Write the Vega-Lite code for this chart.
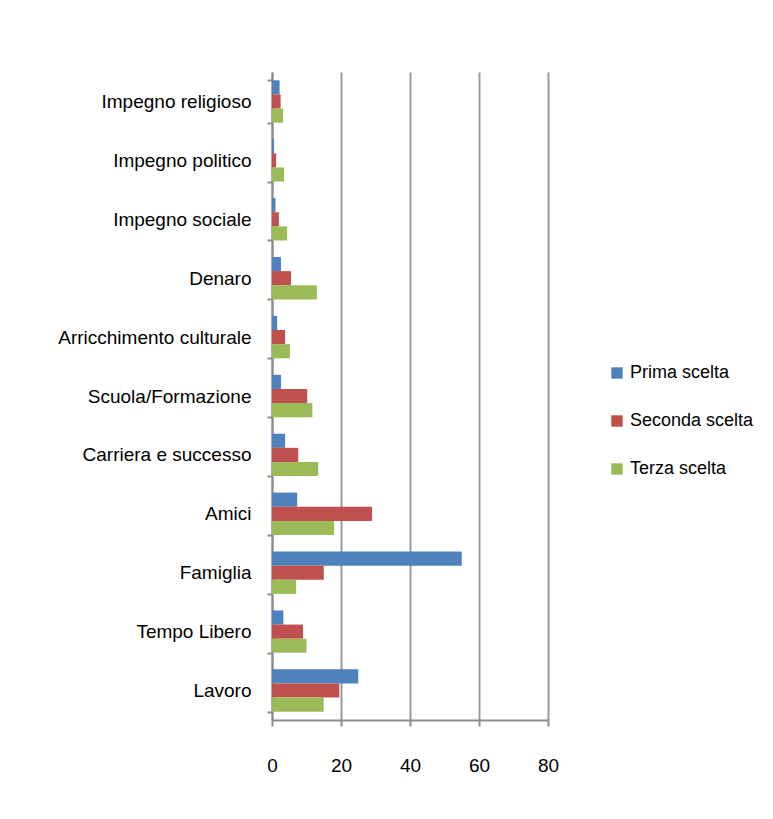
{
  "$schema": "https://vega.github.io/schema/vega-lite/v6.json",
  "autosize": "none",
  "width": 276,
  "height": 648,
  "padding": {"left": 272, "top": 72, "right": 225, "bottom": 99},
  "background": "white",
  "data": {
    "values": [
      {"cat": "Lavoro", "serie": "Prima scelta", "val": 25},
      {"cat": "Lavoro", "serie": "Seconda scelta", "val": 19.5},
      {"cat": "Lavoro", "serie": "Terza scelta", "val": 15},
      {"cat": "Tempo Libero", "serie": "Prima scelta", "val": 3.3},
      {"cat": "Tempo Libero", "serie": "Seconda scelta", "val": 9},
      {"cat": "Tempo Libero", "serie": "Terza scelta", "val": 10},
      {"cat": "Famiglia", "serie": "Prima scelta", "val": 55},
      {"cat": "Famiglia", "serie": "Seconda scelta", "val": 15},
      {"cat": "Famiglia", "serie": "Terza scelta", "val": 7},
      {"cat": "Amici", "serie": "Prima scelta", "val": 7.3},
      {"cat": "Amici", "serie": "Seconda scelta", "val": 29},
      {"cat": "Amici", "serie": "Terza scelta", "val": 18},
      {"cat": "Carriera e successo", "serie": "Prima scelta", "val": 3.8},
      {"cat": "Carriera e successo", "serie": "Seconda scelta", "val": 7.6},
      {"cat": "Carriera e successo", "serie": "Terza scelta", "val": 13.4},
      {"cat": "Scuola/Formazione", "serie": "Prima scelta", "val": 2.6},
      {"cat": "Scuola/Formazione", "serie": "Seconda scelta", "val": 10.2},
      {"cat": "Scuola/Formazione", "serie": "Terza scelta", "val": 11.7},
      {"cat": "Arricchimento culturale", "serie": "Prima scelta", "val": 1.5},
      {"cat": "Arricchimento culturale", "serie": "Seconda scelta", "val": 3.8},
      {"cat": "Arricchimento culturale", "serie": "Terza scelta", "val": 5.2},
      {"cat": "Denaro", "serie": "Prima scelta", "val": 2.6},
      {"cat": "Denaro", "serie": "Seconda scelta", "val": 5.5},
      {"cat": "Denaro", "serie": "Terza scelta", "val": 13},
      {"cat": "Impegno sociale", "serie": "Prima scelta", "val": 1},
      {"cat": "Impegno sociale", "serie": "Seconda scelta", "val": 2},
      {"cat": "Impegno sociale", "serie": "Terza scelta", "val": 4.4},
      {"cat": "Impegno politico", "serie": "Prima scelta", "val": 0.6},
      {"cat": "Impegno politico", "serie": "Seconda scelta", "val": 1.2},
      {"cat": "Impegno politico", "serie": "Terza scelta", "val": 3.5},
      {"cat": "Impegno religioso", "serie": "Prima scelta", "val": 2.2},
      {"cat": "Impegno religioso", "serie": "Seconda scelta", "val": 2.5},
      {"cat": "Impegno religioso", "serie": "Terza scelta", "val": 3.2}
    ]
  },
  "mark": {"type": "bar", "stroke": null},
  "encoding": {
    "y": {
      "field": "cat",
      "type": "nominal",
      "sort": ["Impegno religioso", "Impegno politico", "Impegno sociale", "Denaro", "Arricchimento culturale", "Scuola/Formazione", "Carriera e successo", "Amici", "Famiglia", "Tempo Libero", "Lavoro"],
      "scale": {"paddingInner": 0.28, "paddingOuter": 0.14},
      "axis": {
        "title": null,
        "labelFont": "Liberation Sans",
        "labelFontSize": 19,
        "labelColor": "#000000",
        "labelPadding": 16,
        "labelLimit": 0,
        "tickBand": "extent",
        "tickSize": 5,
        "tickColor": "#8c8c8c",
        "tickWidth": 2,
        "domainColor": "#8c8c8c",
        "domainWidth": 2,
        "grid": false
      }
    },
    "yOffset": {
      "field": "serie",
      "type": "nominal",
      "sort": ["Prima scelta", "Seconda scelta", "Terza scelta"],
      "scale": {"paddingInner": 0}
    },
    "x": {
      "field": "val",
      "type": "quantitative",
      "scale": {"domain": [0, 80], "nice": false},
      "axis": {
        "title": null,
        "values": [0, 20, 40, 60, 80],
        "labelFont": "Liberation Sans",
        "labelFontSize": 19,
        "labelColor": "#000000",
        "labelPadding": 30,
        "labelFlush": false,
        "labelDx": -2,
        "tickSize": 6,
        "tickColor": "#8c8c8c",
        "tickWidth": 2,
        "domainColor": "#8c8c8c",
        "domainWidth": 2,
        "grid": true,
        "gridColor": "#9a9a9a",
        "gridWidth": 2
      }
    },
    "color": {
      "field": "serie",
      "type": "nominal",
      "scale": {
        "domain": ["Prima scelta", "Seconda scelta", "Terza scelta"],
        "range": ["#4F81BD", "#C0504D", "#9BBB59"]
      },
      "legend": {
        "title": null,
        "orient": "none",
        "legendX": 336,
        "legendY": 292,
        "symbolType": "square",
        "symbolSize": 130,
        "symbolStrokeWidth": 0,
        "labelFont": "Liberation Sans",
        "labelFontSize": 18,
        "labelColor": "#000000",
        "rowPadding": 30,
        "labelOffset": 4
      }
    }
  },
  "config": {"view": {"stroke": null}}
}
